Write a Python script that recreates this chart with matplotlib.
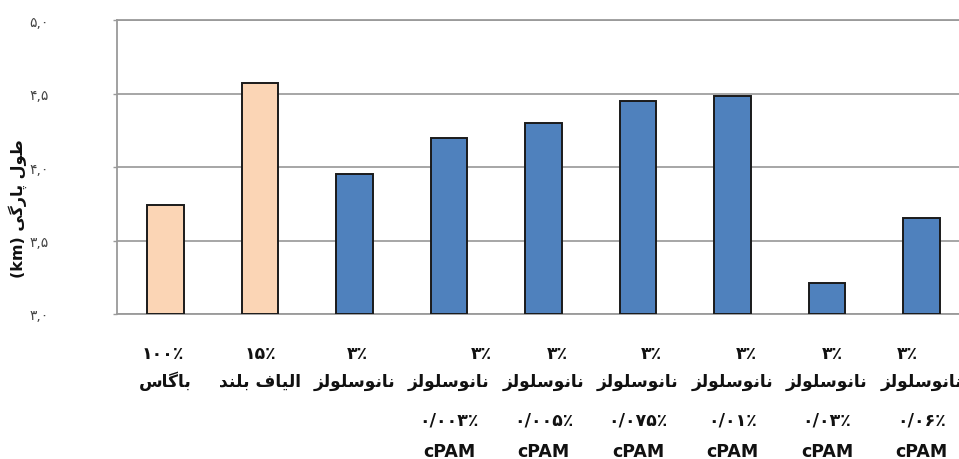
import matplotlib
matplotlib.use("Agg")
import matplotlib.pyplot as plt
from matplotlib import transforms

# ---- data -------------------------------------------------------------
pulp_share = ["۱۰۰٪", "۱۵٪", "۳٪", "۳٪", "۳٪", "۳٪", "۳٪", "۳٪", "۳٪"]
material = ["باگاس", "الیاف بلند", "نانوسلولز", "نانوسلولز", "نانوسلولز",
            "نانوسلولز", "نانوسلولز", "نانوسلولز", "نانوسلولز"]
cpam_dose = ["", "", "", "۰/۰۰۳٪", "۰/۰۰۵٪", "۰/۰۷۵٪", "۰/۰۱٪", "۰/۰۳٪", "۰/۰۶٪"]
cpam_name = ["", "", "", "cPAM", "cPAM", "cPAM", "cPAM", "cPAM", "cPAM"]
breaking_length = [3.74, 4.57, 3.95, 4.20, 4.30, 4.45, 4.48, 3.21, 3.65]
y_ticks = [3.0, 3.5, 4.0, 4.5, 5.0]
y_tick_labels = ["۳,۰", "۳,۵", "۴,۰", "۴,۵", "۵,۰"]
y_title = "طول پارگی"
y_unit = "(km)"

PEACH = "#FBD5B5"
BLUE = "#4F81BD"
bar_colors = [PEACH, PEACH] + [BLUE] * 7

# horizontal nudge (px) of the first label row under each bar
share_dx = [-3, 0, 3, 32, 14, 13, 14, 5, -14]

# ---- minimal Persian shaping (presentation forms) ---------------------
# isolated, final, initial, medial
FORMS = {
    "ا": ("\uFE8D", "\uFE8E", None, None),
    "ب": ("\uFE8F", "\uFE90", "\uFE91", "\uFE92"),
    "پ": ("\uFB56", "\uFB57", "\uFB58", "\uFB59"),
    "د": ("\uFEA9", "\uFEAA", None, None),
    "ر": ("\uFEAD", "\uFEAE", None, None),
    "ز": ("\uFEAF", "\uFEB0", None, None),
    "س": ("\uFEB1", "\uFEB2", "\uFEB3", "\uFEB4"),
    "ط": ("\uFEC1", "\uFEC2", "\uFEC3", "\uFEC4"),
    "ف": ("\uFED1", "\uFED2", "\uFED3", "\uFED4"),
    "گ": ("\uFB92", "\uFB93", "\uFB94", "\uFB95"),
    "ل": ("\uFEDD", "\uFEDE", "\uFEDF", "\uFEE0"),
    "ن": ("\uFEE5", "\uFEE6", "\uFEE7", "\uFEE8"),
    "و": ("\uFEED", "\uFEEE", None, None),
    "ی": ("\uFBFC", "\uFBFD", "\uFBFE", "\uFBFF"),
}


def _dual(ch):
    return ch in FORMS and FORMS[ch][2] is not None


def shape_word(word):
    out = []
    for i, ch in enumerate(word):
        if ch not in FORMS:
            out.append(ch)
            continue
        prev_j = i > 0 and _dual(word[i - 1])
        next_j = i < len(word) - 1 and word[i + 1] in FORMS and _dual(ch)
        iso, fin, ini, med = FORMS[ch]
        if prev_j and next_j:
            out.append(med)
        elif prev_j:
            out.append(fin)
        elif next_j:
            out.append(ini)
        else:
            out.append(iso)
    return "".join(reversed(out))


def persian(text):
    """Shape Persian words and lay them out right-to-left."""
    words = [shape_word(w) for w in text.split(" ")]
    return " ".join(words[::-1])


# ---- figure -----------------------------------------------------------
W, H = 959, 460
fig = plt.figure(figsize=(W / 100, H / 100), dpi=100)
fig.patch.set_facecolor("white")

left_px, right_px = 117, 117 + 9.013 * 94.5
top_px, bottom_px = 21, 315
ax = fig.add_axes([left_px / W, 1 - bottom_px / H,
                   (right_px - left_px) / W, (bottom_px - top_px) / H])

x = list(range(len(breaking_length)))
ax.bar(x, [v - 3.0 for v in breaking_length], bottom=3.0, width=0.39,
       color=bar_colors, edgecolor="#1a1a1a", linewidth=1.4, zorder=3)

ax.set_xlim(-0.513, 8.5)
ax.set_ylim(3.0, 5.0)
ax.set_yticks(y_ticks)
ax.set_yticklabels(y_tick_labels, family="DejaVu Sans", fontsize=10, color="#444444")
ax.tick_params(axis="y", length=3, width=1, color="#9a9a9a", pad=46)
ax.set_xticks(x)
ax.set_xticklabels([""] * len(x))
ax.tick_params(axis="x", length=0)
ax.grid(axis="y", color="#9f9f9f", linewidth=1.3, zorder=0)
for side in ("left", "bottom", "top", "right"):
    ax.spines[side].set_color("#9a9a9a")
    ax.spines[side].set_linewidth(1.3)

# category labels, one text per row (baselines in px from the top)
row_base = [359, 387, 426, 457]
row_size = [12.5, 12.3, 12.5, 12.5]
for i in x:
    rows = [pulp_share[i], persian(material[i]), cpam_dose[i], cpam_name[i]]
    for r, txt in enumerate(rows):
        if not txt:
            continue
        dx = share_dx[i] if r == 0 else 0
        off = transforms.ScaledTranslation(dx / 100, 0, fig.dpi_scale_trans)
        trans = transforms.blended_transform_factory(ax.transData, fig.transFigure) + off
        ax.text(i, 1 - row_base[r] / H, txt, transform=trans, ha="center",
                va="baseline", family="DejaVu Sans", fontweight="bold",
                fontsize=row_size[r], color="#111111")

fig.text(18 / W, 1 - 209 / H, y_unit + " " + persian(y_title), rotation=90,
         ha="center", va="center", family="DejaVu Sans", fontweight="bold",
         fontsize=11.5, color="#111111")

fig.savefig("out.png", dpi=100, facecolor="white")
